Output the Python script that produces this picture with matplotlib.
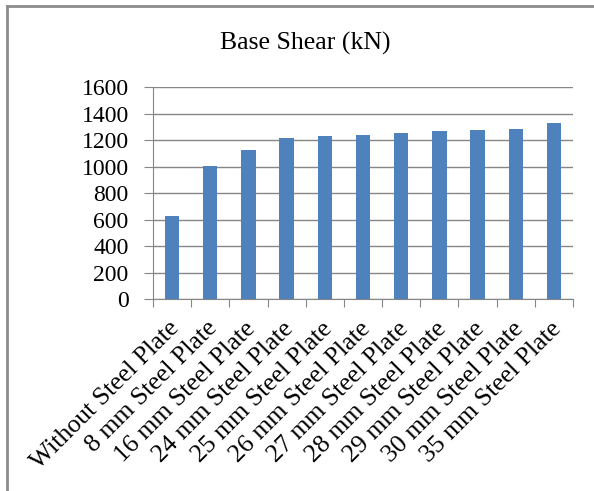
import matplotlib.pyplot as plt
import matplotlib.transforms as mtransforms
import numpy as np

plt.rcParams['font.family'] = ['Liberation Serif', 'DejaVu Serif']

categories = ['Without Steel Plate', '8 mm Steel Plate', '16 mm Steel Plate',
              '24 mm Steel Plate', '25 mm Steel Plate', '26 mm Steel Plate',
              '27 mm Steel Plate', '28 mm Steel Plate', '29 mm Steel Plate',
              '30 mm Steel Plate', '35 mm Steel Plate']
base_shear = [626, 1004, 1125, 1220, 1230, 1240, 1258, 1268, 1278, 1286, 1333]
yticks = [0, 200, 400, 600, 800, 1000, 1200, 1400, 1600]

fig = plt.figure(figsize=(5.94, 4.91), dpi=100)
ax = fig.add_axes([0.2576, 0.3904, 0.707, 0.4318])

x = np.arange(len(categories))
ax.bar(x, base_shear, width=0.375, color='#4F81BD', zorder=3)

ax.set_xlim(-0.5, len(categories) - 0.5)
ax.set_ylim(0, 1600)
ax.set_yticks(yticks)
ax.set_yticklabels([str(v) for v in yticks], fontsize=17)
ax.yaxis.grid(True, color='#868686', linewidth=1)
ax.set_axisbelow(True)

# category ticks sit on the boundaries between bars
ax.set_xticks(np.arange(len(categories) + 1) - 0.5)
ax.set_xticklabels([])
ax.set_xticks(x, minor=True)
ax.set_xticklabels(categories, minor=True, rotation=45, ha='right',
                   rotation_mode='anchor', fontsize=18.5)
ax.tick_params(axis='x', which='minor', length=0, pad=13)
ax.tick_params(axis='x', which='major', length=6, color='#868686', direction='out')
ax.tick_params(axis='y', length=6.5, color='#868686', pad=11)

# nudge the slanted labels a little to the left
shift = mtransforms.ScaledTranslation(-4 / 100, 0, fig.dpi_scale_trans)
for lbl in ax.get_xticklabels(minor=True):
    lbl.set_transform(lbl.get_transform() + shift)

for side in ['top', 'right']:
    ax.spines[side].set_visible(False)
for side in ['left', 'bottom']:
    ax.spines[side].set_color('#868686')

fig.text(0.514, 0.912, 'Base Shear (kN)', ha='center', va='center', fontsize=18.5)

# outer chart frame, only the top and left edges show
fig.add_artist(plt.Line2D([0.011, 1.0], [0.988, 0.988], transform=fig.transFigure,
                          color='#8c8c8c', linewidth=2))
fig.add_artist(plt.Line2D([0.011, 0.011], [0.0, 0.988], transform=fig.transFigure,
                          color='#8c8c8c', linewidth=2))

fig.savefig('out.png', dpi=100)
